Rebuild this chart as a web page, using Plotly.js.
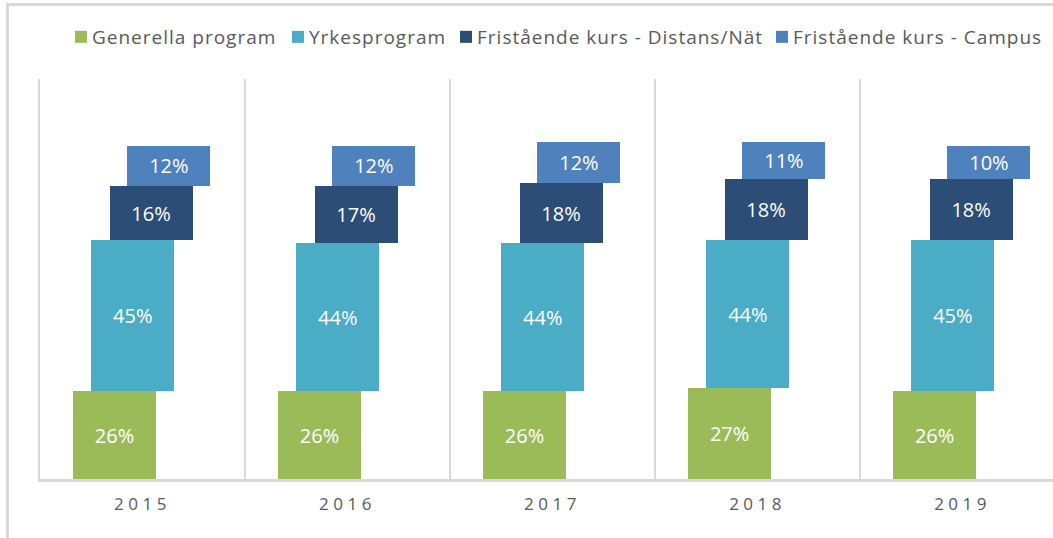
<!DOCTYPE html>
<html>
<head>
<meta charset="utf-8">
<script src="https://cdn.plot.ly/plotly-3.0.1.min.js"></script>
<style>
  html, body { margin:0; padding:0; background:#fff; overflow:hidden; }
  #frame { position:absolute; left:6px; top:3px; width:1100px; height:600px;
           border-top:3px solid #d9d9d9; border-left:3px solid #d9d9d9; }
  #chart { position:absolute; left:0; top:0; width:1053px; height:538px; }
  .xtick text { letter-spacing:4.5px; }
  .infolayer text { letter-spacing:1px; transform: translateX(-9px); }
  .infolayer g, .infolayer .scrollbox { clip-path: none !important; }
</style>
</head>
<body>
<div id="frame"></div>
<div id="chart"></div>
<script>
const years = ["2015", "2016", "2017", "2018", "2019"];
const seriesNames = ["Generella program", "Yrkesprogram", "Fristående kurs - Distans/Nät", "Fristående kurs - Campus"];
const generella = [26, 26, 26, 27, 26];
const yrkes = [45, 44, 44, 44, 45];
const distans = [16, 17, 18, 18, 18];
const campus = [12, 12, 12, 11, 10];
const colors = ["#9BBB59", "#4BACC6", "#2C4D75", "#4F81BD"];
const offsets = [-0.339, -0.25, -0.161, -0.074];
const barWidth = 0.405;
const legendIds = ["legend", "legend2", "legend3", "legend4"];
const legendX = [0.0207, 0.2349, 0.4008, 0.7127];

const values = [generella, yrkes, distans, campus];
const traces = values.map((v, i) => ({
  type: "bar",
  name: seriesNames[i],
  legend: legendIds[i],
  x: years,
  y: v,
  width: barWidth,
  offset: offsets[i],
  marker: { color: colors[i], line: { width: 0 } },
  texttemplate: "%{y}%",
  textposition: "inside",
  insidetextanchor: "middle",
  constraintext: "none",
  textfont: { color: "#ffffff", size: 20, family: "Open Sans" },
  hoverinfo: "skip"
}));

const layout = {
  width: 1053, height: 538,
  margin: { l: 40, r: 0, t: 79, b: 59, pad: 0 },
  paper_bgcolor: "rgba(0,0,0,0)",
  plot_bgcolor: "rgba(0,0,0,0)",
  barmode: "stack",
  showlegend: true,
  xaxis: {
    type: "category",
    range: [-0.5, 4.441],
    tickson: "boundaries",
    showgrid: true, gridcolor: "#d9d9d9", gridwidth: 2.5,
    showline: true, linecolor: "#d9d9d9", linewidth: 2.5,
    ticks: "", ticklabelstandoff: 8,
    tickfont: { family: "Open Sans", size: 17, color: "#595959" },
    fixedrange: true
  },
  yaxis: {
    range: [0, 118.8],
    showgrid: false, zeroline: false, showticklabels: false, ticks: "",
    showline: true, linecolor: "#d9d9d9", linewidth: 2.5,
    fixedrange: true
  }
};
legendIds.forEach((id, i) => {
  layout[id] = {
    orientation: "h", x: legendX[i], xanchor: "left", y: 1.105, yanchor: "middle",
    font: { family: "Open Sans", size: 19, color: "#595959" },
    bgcolor: "rgba(0,0,0,0)", itemclick: false
  };
});

Plotly.newPlot("chart", traces, layout, { displayModeBar: false, staticPlot: true });
</script>
</body>
</html>
